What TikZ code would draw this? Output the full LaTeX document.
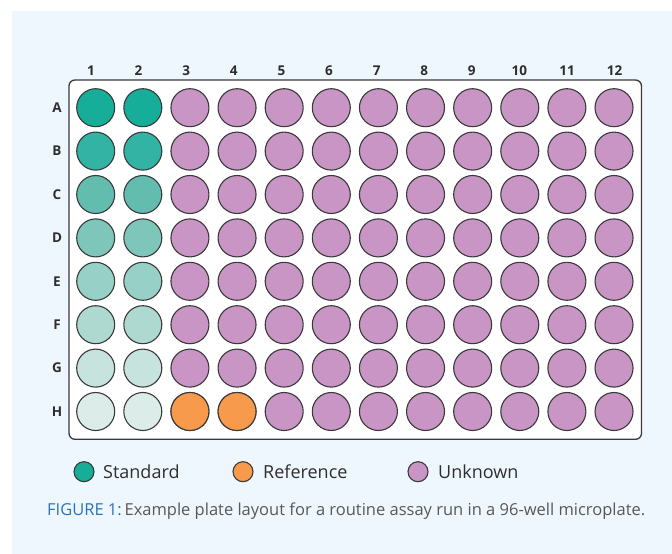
\documentclass[tikz,border=0pt]{standalone}
\usepackage{fontspec}
\setmainfont{Open Sans}
\definecolor{bgc}{HTML}{EFF7FE}
\definecolor{edgec}{HTML}{3A3A3A}
\definecolor{txtc}{HTML}{2E2E2E}
\definecolor{capblue}{HTML}{2B73B8}
\definecolor{capgray}{HTML}{585858}
\definecolor{unk}{HTML}{C895C5}
\definecolor{refc}{HTML}{F79A4B}
\definecolor{stA}{HTML}{16AE98}
\definecolor{stB}{HTML}{33B3A3}
\definecolor{stC}{HTML}{62BDAF}
\definecolor{stD}{HTML}{7FC6BA}
\definecolor{stE}{HTML}{97D0C6}
\definecolor{stF}{HTML}{AED9D1}
\definecolor{stG}{HTML}{C6E3DE}
\definecolor{stH}{HTML}{DCEDE9}
\tikzset{
  well/.style={circle, draw=edgec, line width=1.1pt, minimum size=38pt, inner sep=0pt},
  legdot/.style={circle, draw=edgec, line width=1.1pt, minimum size=20pt, inner sep=0pt},
  collab/.style={font=\fontsize{13.5}{15}\selectfont\bfseries, text=txtc, inner sep=0pt},
  legtext/.style={font=\fontsize{18}{21}\selectfont, text=txtc, anchor=west, inner sep=0pt},
}
\begin{document}
\begin{tikzpicture}[x=1pt,y=-1pt]
\useasboundingbox (0,0) rectangle (672,554);
\fill[white] (0,0) rectangle (672,554);
\fill[bgc] (12,11) rectangle (672,554);
\draw[edgec, line width=1.3pt, fill=white, rounded corners=6pt] (69,80) rectangle (641.5,439.3);
% column labels
\foreach \c in {1,...,12} {
  \node[collab] (col\c) at ({91+(\c-1)*47.6},71) {\c};
}
% row labels and wells
\foreach \r/\L/\sc [count=\i from 0] in {A/A/stA,B/B/stB,C/C/stC,D/D/stD,E/E/stE,F/F/stF,G/G/stG,H/H/stH} {
  \node[collab] (row\L) at (57,{107.7+\i*43.4}) {\L};
  \foreach \c in {1,...,12} {
    \ifnum\c<3
      \node[well, fill=\sc] (w\L\c) at ({95.7+(\c-1)*47.12},{107.7+\i*43.4}) {};
    \else
      \node[well, fill=unk] (w\L\c) at ({95.7+(\c-1)*47.12},{107.7+\i*43.4}) {};
    \fi
  }
}
% reference wells
\node[well, fill=refc] (refH3) at ({95.7+2*47.12},{107.7+7*43.4}) {};
\node[well, fill=refc] (refH4) at ({95.7+3*47.12},{107.7+7*43.4}) {};
% legend
\node[legdot, fill=stA] (legS) at (84,471.7) {};
\node[legtext] (legSt) at (103,471.7) {Standard};
\node[legdot, fill=refc] (legR) at (243,471.7) {};
\node[legtext] (legRt) at (263,471.7) {Reference};
\node[legdot, fill=unk] (legU) at (418,471.7) {};
\node[legtext] (legUt) at (438,471.7) {Unknown};
% caption
\node[anchor=west, inner sep=0pt, font=\fontsize{16.5}{19}\selectfont] (cap) at (47,511)
  {\textcolor{capblue}{FIGURE 1:}\,\textcolor{capgray}{Example plate layout for a routine assay run in a 96-well microplate.}};
\end{tikzpicture}
\end{document}
